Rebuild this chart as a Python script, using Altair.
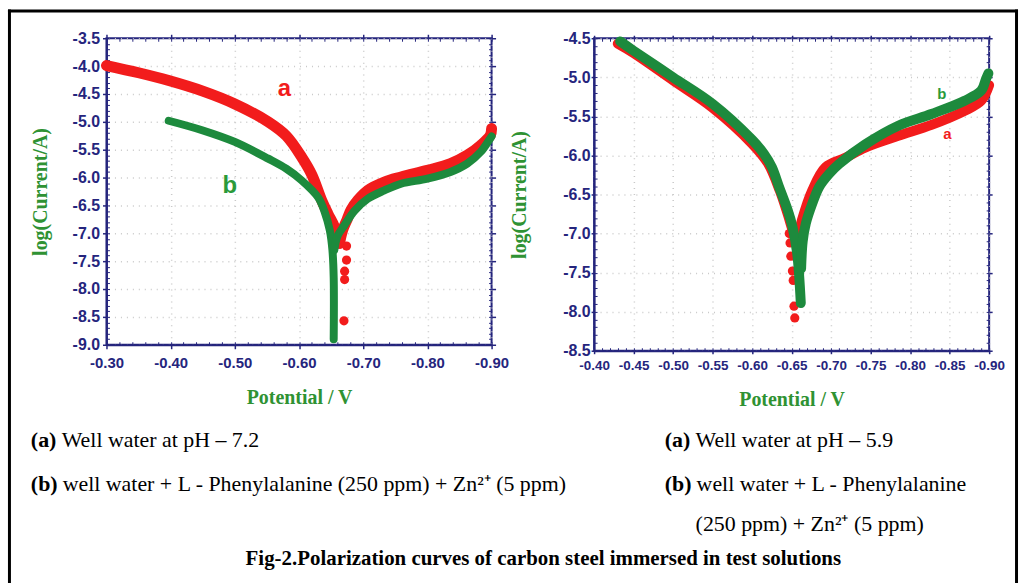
import altair as alt
import pandas as pd

# ---------------- data ----------------
# Left panel: well water pH 7.2  (cathodic / anodic branches)
L_A_CAT_POT = [-0.300, -0.350, -0.397, -0.450, -0.500, -0.552, -0.580, -0.604, -0.620, -0.635,
               -0.645, -0.655, -0.663]
L_A_CAT_CUR = [-3.99, -4.12, -4.26, -4.45, -4.68, -5.00, -5.25, -5.63, -5.95, -6.40,
               -6.65, -6.88, -7.18]
L_A_AN_POT = [-0.663, -0.668, -0.675, -0.681, -0.692, -0.707, -0.733, -0.759, -0.800, -0.836,
              -0.862, -0.883, -0.898, -0.900]
L_A_AN_CUR = [-7.18, -6.94, -6.75, -6.58, -6.40, -6.23, -6.08, -5.99, -5.87, -5.75,
              -5.60, -5.42, -5.24, -5.12]
L_B_CAT_POT = [-0.397, -0.449, -0.500, -0.552, -0.580, -0.604, -0.630, -0.640, -0.648, -0.652,
               -0.654, -0.654]
L_B_CAT_CUR = [-4.98, -5.15, -5.36, -5.66, -5.84, -6.05, -6.36, -6.62, -6.95, -7.30,
               -7.80, -8.90]
L_B_AN_POT = [-0.655, -0.660, -0.671, -0.686, -0.707, -0.733, -0.759, -0.800, -0.836, -0.862,
              -0.883, -0.896, -0.900]
L_B_AN_CUR = [-7.30, -7.05, -6.85, -6.60, -6.38, -6.23, -6.11, -6.02, -5.90, -5.75,
              -5.54, -5.33, -5.26]
L_DOT_POT = [-0.674, -0.674, -0.671, -0.671, -0.670]
L_DOT_CUR = [-7.23, -7.48, -7.68, -7.83, -8.57]
L_LAB_TXT = ["a", "b"]
L_LAB_POT = [-0.577, -0.492]
L_LAB_CUR = [-4.41, -6.16]

# Right panel: well water pH 5.9
R_A_CAT_POT = [-0.430, -0.450, -0.500, -0.550, -0.600, -0.620, -0.635, -0.645, -0.652, -0.656]
R_A_CAT_CUR = [-4.57, -4.69, -5.04, -5.39, -5.85, -6.10, -6.45, -6.75, -6.98, -7.08]
R_A_AN_POT = [-0.656, -0.659, -0.663, -0.676, -0.693, -0.718, -0.743, -0.785, -0.827, -0.869,
              -0.890, -0.900]
R_A_AN_CUR = [-7.08, -7.00, -6.83, -6.45, -6.15, -6.03, -5.90, -5.75, -5.61, -5.43,
              -5.30, -5.10]
R_B_CAT_POT = [-0.433, -0.450, -0.500, -0.550, -0.600, -0.615, -0.625, -0.634, -0.645, -0.651,
               -0.657, -0.6616]
R_B_CAT_CUR = [-4.54, -4.66, -5.00, -5.34, -5.80, -5.98, -6.15, -6.40, -6.70, -6.91,
               -7.25, -7.89]
R_B_AN_POT = [-0.662, -0.664, -0.668, -0.676, -0.685, -0.697, -0.710, -0.743, -0.785, -0.827,
              -0.869, -0.890, -0.896, -0.899]
R_B_AN_CUR = [-7.45, -7.10, -6.87, -6.62, -6.40, -6.24, -6.11, -5.86, -5.62, -5.47,
              -5.30, -5.17, -5.02, -4.95]
R_DOT_POT = [-0.647, -0.648, -0.649, -0.651, -0.652, -0.653, -0.654]
R_DOT_CUR = [-7.00, -7.12, -7.29, -7.48, -7.60, -7.93, -8.08]
R_LAB_TXT = ["b", "a"]
R_LAB_POT = [-0.840, -0.847]
R_LAB_CUR = [-5.21, -5.72]

# axis ticks
L_X_MAJOR = [-0.30, -0.40, -0.50, -0.60, -0.70, -0.80, -0.90]
L_Y_MAJOR = [-3.5, -4.0, -4.5, -5.0, -5.5, -6.0, -6.5, -7.0, -7.5, -8.0, -8.5, -9.0]
R_X_MAJOR = [-0.40, -0.45, -0.50, -0.55, -0.60, -0.65, -0.70, -0.75, -0.80, -0.85, -0.90]
R_Y_MAJOR = [-4.5, -5.0, -5.5, -6.0, -6.5, -7.0, -7.5, -8.0, -8.5]
L_X_MINOR = [round(-0.30 - 0.02 * k, 2) for k in range(31)]
L_Y_MINOR = [round(-3.5 - 0.1 * k, 1) for k in range(56)]
R_X_MINOR = [round(-0.40 - 0.01 * k, 2) for k in range(51)]
R_Y_MINOR = [round(-4.5 - 0.1 * k, 1) for k in range(41)]

# texts
X_TITLE = "Potential / V"
Y_TITLE = "log(Current/A)"
LEFT_A = ["(a)", "Well water at pH \u2013 7.2"]
LEFT_B = ["(b)", "well water + L - Phenylalanine (250 ppm) + Zn\u00b2\u207a (5 ppm)"]
RIGHT_A = ["(a)", "Well water at pH \u2013 5.9"]
RIGHT_B = ["(b)", "well water + L - Phenylalanine"]
RIGHT_B2 = "(250 ppm) + Zn\u00b2\u207a (5 ppm)"
CAPTION = "Fig-2.Polarization curves of carbon steel immersed in test solutions"

NAVY = "#25257d"
RED = "#f21c1c"
GREEN = "#1d8a3d"
TGREEN = "#2f9233"
SERIF = "Liberation Serif"
SANS = "Liberation Sans"


def curve(cat_p, cat_c, an_p, an_c):
    n1, n2 = len(cat_p), len(an_p)
    return pd.DataFrame({
        "pot": cat_p + an_p,
        "cur": cat_c + an_c,
        "seg": ["cathodic"] * n1 + ["anodic"] * n2,
        "i": list(range(n1)) + list(range(n2)),
    })


def make_panel(xdom, ydom, xmaj, ymaj, xmin, ymin, a, b, dots, labs,
               red_w, green_w, lab_size, xlab_size, ylab_size,
               lab_pad_x, lab_pad_y, tick, ytitle_pad, xtitle_pad):
    xs = alt.Scale(domain=xdom, reverse=True, nice=False, zero=False)
    ys = alt.Scale(domain=ydom, nice=False, zero=False)

    common = dict(tickColor=NAVY, domain=False, grid=False, labels=False)

    ax_x_main = alt.Axis(values=xmaj, labelExpr="'-' + format(abs(datum.value), '.2f')",
                         labelFont=SANS, labelFontSize=xlab_size, labelFontWeight="bold",
                         labelColor=NAVY, labelPadding=lab_pad_x, labelOverlap=False,
                         labelFlush=False, tickColor=NAVY, tickSize=tick, tickWidth=1.5,
                         domainColor=NAVY, domainWidth=2,
                         grid=True, gridColor="#c9c9c9", gridDash=[1, 5], gridWidth=1.5,
                         titleFont=SERIF, titleFontSize=20, titleFontWeight="bold",
                         titleColor=TGREEN, titlePadding=xtitle_pad)
    ax_y_main = alt.Axis(values=ymaj, labelExpr="'-' + format(abs(datum.value), '.1f')",
                         labelFont=SANS, labelFontSize=ylab_size, labelFontWeight="bold",
                         labelColor=NAVY, labelPadding=lab_pad_y, labelOverlap=False,
                         labelFlush=False, tickColor=NAVY, tickSize=tick, tickWidth=1.5,
                         domainColor=NAVY, domainWidth=2,
                         grid=True, gridColor="#c9c9c9", gridDash=[1, 5], gridWidth=1.5,
                         titleFont=SERIF, titleFontSize=20, titleFontWeight="bold",
                         titleColor=TGREEN, titlePadding=ytitle_pad)
    ax_x_bmin = alt.Axis(orient="bottom", values=xmin, offset=-3, tickSize=3, tickWidth=1, **common)
    ax_y_lmin = alt.Axis(orient="left", values=ymin, offset=-3, tickSize=3, tickWidth=1, **common)
    ax_x_tmaj = alt.Axis(orient="top", values=xmaj, tickSize=tick, tickWidth=1.5, **common)
    ax_y_rmaj = alt.Axis(orient="right", values=ymaj, tickSize=tick, tickWidth=1.5, **common)
    ax_x_tmin = alt.Axis(orient="top", values=xmin, offset=-3, tickSize=3, tickWidth=1, **common)
    ax_y_rmin = alt.Axis(orient="right", values=ymin, offset=-3, tickSize=3, tickWidth=1, **common)

    red = alt.Chart(a).mark_line(color=RED, strokeWidth=red_w, strokeCap="round",
                                 strokeJoin="round", interpolate="catmull-rom").encode(
        x=alt.X("pot:Q", scale=xs, axis=ax_x_main, title=X_TITLE),
        y=alt.Y("cur:Q", scale=ys, axis=ax_y_main, title=Y_TITLE),
        detail="seg:N", order="i:Q")
    dot = alt.Chart(dots).mark_circle(color=RED, size=85, opacity=1).encode(
        x=alt.X("pot:Q", scale=xs, axis=ax_x_tmaj, title=None),
        y=alt.Y("cur:Q", scale=ys, axis=ax_y_rmaj, title=None))
    green = alt.Chart(b).mark_line(color=GREEN, strokeWidth=green_w, strokeCap="round",
                                   strokeJoin="round", interpolate="catmull-rom").encode(
        x=alt.X("pot:Q", scale=xs, axis=ax_x_bmin, title=None),
        y=alt.Y("cur:Q", scale=ys, axis=ax_y_lmin, title=None),
        detail="seg:N", order="i:Q")
    lab = alt.Chart(labs).mark_text(font=SANS, fontWeight="bold", fontSize=lab_size).encode(
        x=alt.X("pot:Q", scale=xs, axis=ax_x_tmin, title=None),
        y=alt.Y("cur:Q", scale=ys, axis=ax_y_rmin, title=None),
        text="t:N",
        color=alt.Color("t:N", scale=alt.Scale(domain=["a", "b"], range=[RED, "#2a9a3a"]),
                        legend=None))
    return [red, dot, green, lab]


a_l = curve(L_A_CAT_POT, L_A_CAT_CUR, L_A_AN_POT, L_A_AN_CUR)
b_l = curve(L_B_CAT_POT, L_B_CAT_CUR, L_B_AN_POT, L_B_AN_CUR)
d_l = pd.DataFrame({"pot": L_DOT_POT, "cur": L_DOT_CUR})
t_l = pd.DataFrame({"t": L_LAB_TXT, "pot": L_LAB_POT, "cur": L_LAB_CUR})
a_r = curve(R_A_CAT_POT, R_A_CAT_CUR, R_A_AN_POT, R_A_AN_CUR)
b_r = curve(R_B_CAT_POT, R_B_CAT_CUR, R_B_AN_POT, R_B_AN_CUR)
d_r = pd.DataFrame({"pot": R_DOT_POT, "cur": R_DOT_CUR})
t_r = pd.DataFrame({"t": R_LAB_TXT, "pot": R_LAB_POT, "cur": R_LAB_CUR})

left_layers = make_panel([-0.9, -0.3], [-9.0, -3.5], L_X_MAJOR, L_Y_MAJOR,
                         L_X_MINOR, L_Y_MINOR, a_l, b_l, d_l, t_l,
                         11, 8, 24, 15, 16, 7, 3, 4, 22, 17)
right_layers = make_panel([-0.9, -0.4], [-8.5, -4.5], R_X_MAJOR, R_Y_MAJOR,
                          R_X_MINOR, R_Y_MINOR, a_r, b_r, d_r, t_r,
                          10, 10, 15, 13.5, 16, 5, 1, 3, 33, 18)

one = pd.DataFrame({"k": [0]})


def txt(s, x, y, size=22, weight="normal", align="left"):
    return alt.Chart(one).mark_text(text=s, font=SERIF, fontSize=size, fontWeight=weight,
                                    align=align, baseline="middle", color="black").encode(
        x=alt.value(x), y=alt.value(y))


# decorations & captions (pixel offsets relative to the left plot area)
deco = [
    alt.Chart(one).mark_rule(color="black", strokeWidth=3).encode(
        x=alt.value(-97.5), y=alt.value(-29), y2=alt.value(548)),
    alt.Chart(one).mark_rule(color="black", strokeWidth=3).encode(
        x=alt.value(914.5), y=alt.value(-29), y2=alt.value(548)),
    alt.Chart(one).mark_rule(color="black", strokeWidth=3).encode(
        x=alt.value(-99), x2=alt.value(916), y=alt.value(-27.5)),
    txt(LEFT_A[0], -76, 404, weight="bold"),
    txt(LEFT_A[1], -45, 404),
    txt(LEFT_B[0], -76, 448, weight="bold"),
    txt(LEFT_B[1], -44, 448),
    txt(RIGHT_A[0], 561, 404, weight="bold"),
    txt(RIGHT_A[1], 592, 404),
    txt(RIGHT_B[0], 561, 448, weight="bold"),
    txt(RIGHT_B[1], 593, 448),
    txt(RIGHT_B2, 592, 488),
    txt(CAPTION, 439, 523, size=21, weight="bold", align="center"),
]

left = alt.layer(*left_layers, *deco).resolve_axis(x="independent", y="independent").properties(
    width=387, height=308)
right = alt.layer(*right_layers).resolve_axis(x="independent", y="independent").properties(
    width=397, height=314)

chart = alt.hconcat(left, right, spacing=103, bounds="flush").properties(
    padding={"left": 5, "top": 5, "right": 0, "bottom": 0},
    background="white",
).configure_view(stroke=NAVY, strokeWidth=2)

chart.save("out.html", embed_options={"renderer": "svg", "actions": False})
